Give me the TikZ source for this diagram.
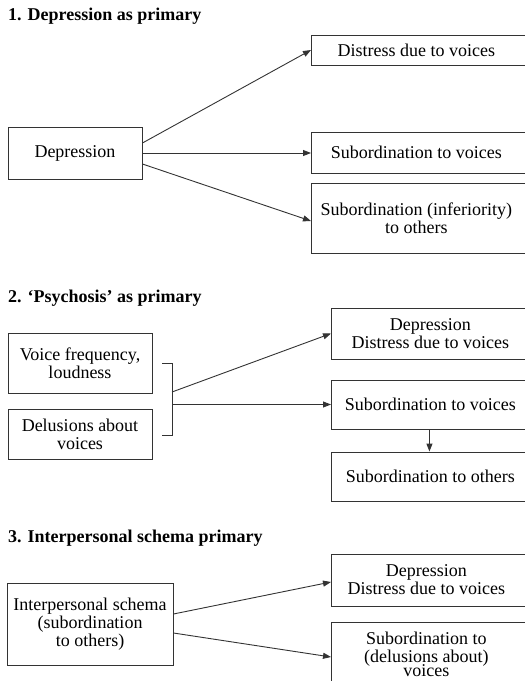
\documentclass[tikz,border=0pt]{standalone}
\usepackage{fontspec}
\setmainfont{Liberation Serif}
\usepackage{tikz}
\usetikzlibrary{arrows.meta}
\definecolor{ink}{HTML}{333333}
\newcommand{\bodyFont}{\fontsize{18}{18}\selectfont}
\newcommand{\headFont}{\fontsize{18}{18}\selectfont\bfseries}
\tikzset{
  boxNode/.style={draw=ink, line width=0.9pt, align=center, inner sep=0pt, font=\bodyFont},
  boxText/.style={align=center, inner sep=0pt, font=\bodyFont},
  rightBox/.style={draw=ink, line width=0.9pt, inner sep=0pt, anchor=west, minimum width=219pt},
  headText/.style={anchor=base west, inner sep=0pt, font=\headFont},
  link/.style={draw=ink, line width=0.9pt, -{Triangle[length=8pt,width=6pt]}},
  brace/.style={draw=ink, line width=0.9pt}
}

\begin{document}
\begin{tikzpicture}[x=1pt, y=-1pt]
  \useasboundingbox (0,0) rectangle (525,681);
  \clip (0,0) rectangle (525,681);

  % 1. depression first
  \node[headText] (head1) at (8,20) {1. Depression as primary};
  \node[boxNode, minimum width=134pt, minimum height=52pt] (dep1) at (75,153) {Depression};
  \node[rightBox, minimum height=30pt,
    label={[boxText, xshift=-4.5pt]center:Distress due to voices}] (dist1) at (311,50) {};
  \node[rightBox, minimum height=41pt,
    label={[boxText, xshift=-4.5pt]center:Subordination to voices}] (subv1) at (311,152.5) {};
  \node[rightBox, minimum height=70pt,
    label={[boxText, xshift=-4.5pt]center:Subordination (inferiority)\\to others}] (subo1) at (311,218) {};

  \draw[link] ([yshift=10pt]dep1.east) -- (dist1.west);
  \draw[link] (dep1.east) -- (dep1.east -| subv1.west);
  \draw[link] ([yshift=-11pt]dep1.east) -- ([yshift=-3pt]subo1.west);

  % 2. psychosis first
  \node[headText] (head2) at (8,302) {2. ‘Psychosis’ as primary};
  \node[boxNode, minimum width=144pt, minimum height=60pt] (freq2) at (80,363) {Voice frequency,\\loudness};
  \node[boxNode, minimum width=144pt, minimum height=50pt] (delu2) at (80,434) {Delusions about\\voices};
  \node[rightBox, minimum height=51pt,
    label={[boxText, xshift=-10.5pt]center:Depression\\Distress due to voices}] (dist2) at (331,333.5) {};
  \node[rightBox, minimum height=49pt,
    label={[boxText, xshift=-10.5pt]center:Subordination to voices}] (subv2) at (331,404.5) {};
  \node[rightBox, minimum height=49pt,
    label={[boxText, xshift=-10.5pt]center:Subordination to others}] (subo2) at (331,476.5) {};

  \coordinate (brTop) at (172,363);
  \coordinate (brBot) at (172,435);
  \coordinate (brUp) at (172,392);
  \coordinate (brMid) at (172,404.5);
  \draw[brace] ([xshift=-10pt]brTop) -- (brTop) -- (brBot) -- ([xshift=-10pt]brBot);

  \draw[link] (brUp) -- (dist2.west);
  \draw[link] (brMid) -- (subv2.west);
  \draw[link] ([xshift=-11.5pt]subv2.south) -- ([xshift=-11.5pt]subo2.north);

  % 3. schema first
  \node[headText] (head3) at (8,542) {3. Interpersonal schema primary};
  \node[boxNode, minimum width=166pt, minimum height=82pt] (schema3) at (90,624) {Interpersonal schema\\(subordination\\to others)};
  \node[rightBox, minimum height=52pt,
    label={[boxText, xshift=-14.5pt]center:Depression\\Distress due to voices}] (dist3) at (331,580) {};
  \node[rightBox, minimum height=63pt,
    label={[boxText, xshift=-14.5pt, yshift=-1pt]center:Subordination to\\(delusions about)\\[-4pt]voices}] (subv3) at (331,653.5) {};

  \draw[link] ([yshift=10pt]schema3.east) -- ([yshift=-2pt]dist3.west);
  \draw[link] ([yshift=-9pt]schema3.east) -- ([yshift=-3.5pt]subv3.west);
\end{tikzpicture}
\end{document}
